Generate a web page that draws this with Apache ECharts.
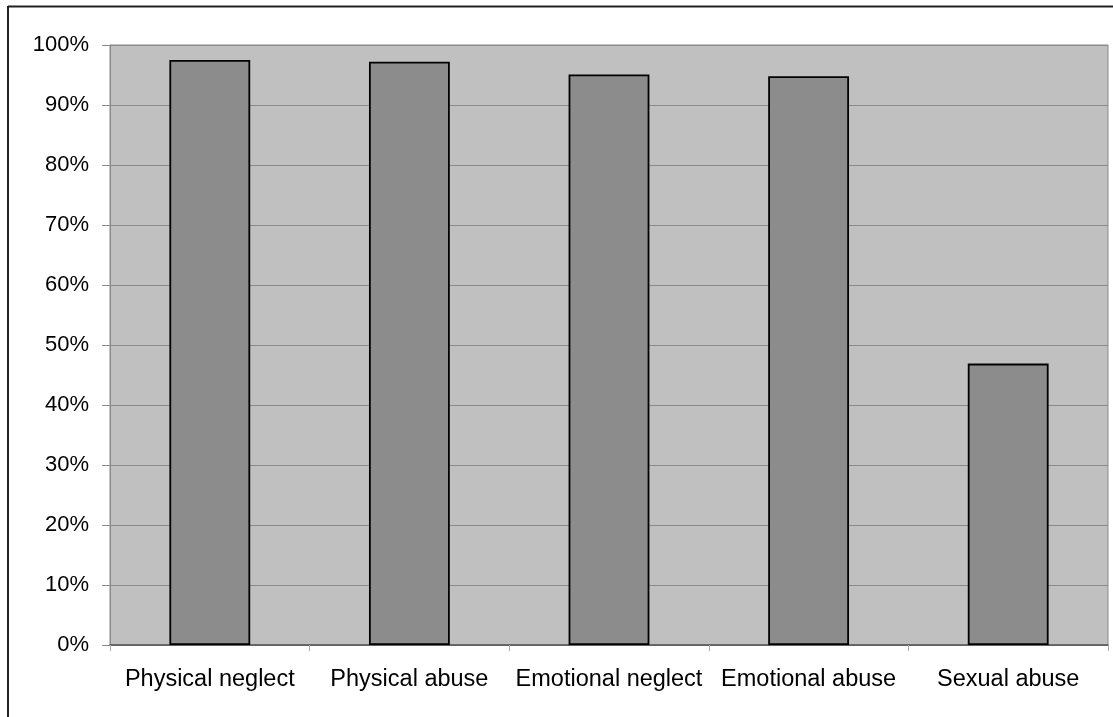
<!DOCTYPE html>
<html>
<head>
<meta charset="utf-8">
<style>
  html, body { margin: 0; padding: 0; background: #ffffff; }
  #chart { width: 1113px; height: 717px; }
</style>
<script src="https://cdn.jsdelivr.net/npm/echarts@6/dist/echarts.min.js"></script>
</head>
<body>
<div id="chart"></div>
<script>
// Share of cases reporting each type of maltreatment (%)
const categories = ['Physical neglect', 'Physical abuse', 'Emotional neglect', 'Emotional abuse', 'Sexual abuse'];
const percentages = [97.5, 97.2, 95.1, 94.8, 46.9];
const yTicks = [0, 10, 20, 30, 40, 50, 60, 70, 80, 90, 100];

const chart = echarts.init(document.getElementById('chart'), null, { renderer: 'canvas' });

const fontFamily = '"Liberation Sans", Arial, Helvetica, sans-serif';

chart.setOption({
  animation: false,
  backgroundColor: '#ffffff',
  graphic: [
    { type: 'line', shape: { x1: 8, y1: 6.5, x2: 1113, y2: 6.5 }, style: { stroke: '#222222', lineWidth: 2 } },
    { type: 'line', shape: { x1: 8, y1: 6, x2: 8, y2: 717 }, style: { stroke: '#222222', lineWidth: 2 } }
  ],
  grid: {
    left: 110,
    top: 45,
    right: 5,
    bottom: 72,
    show: true,
    backgroundColor: '#c0c0c0',
    borderColor: '#8a8a8a',
    borderWidth: 1
  },
  xAxis: {
    type: 'category',
    data: categories,
    boundaryGap: true,
    axisLine: { show: true, lineStyle: { color: '#555555', width: 1.5 } },
    axisTick: { show: true, alignWithLabel: false, length: 6, lineStyle: { color: '#aaaaaa' } },
    axisLabel: {
      margin: 23,
      interval: 0,
      fontFamily: fontFamily,
      fontSize: 23.5,
      color: '#000000'
    },
    splitLine: { show: false }
  },
  yAxis: {
    type: 'value',
    min: yTicks[0],
    max: yTicks[yTicks.length - 1],
    interval: yTicks[1] - yTicks[0],
    axisLine: { show: true, lineStyle: { color: '#8a8a8a' } },
    axisTick: { show: true, length: 8, lineStyle: { color: '#8a8a8a' } },
    axisLabel: {
      margin: 21,
      formatter: '{value}%',
      fontFamily: fontFamily,
      fontSize: 22,
      color: '#000000'
    },
    splitLine: { show: true, lineStyle: { color: '#8a8a8a', width: 1 } }
  },
  series: [{
    type: 'bar',
    data: percentages,
    barWidth: '40.5%',
    itemStyle: {
      color: '#8c8c8c',
      borderColor: '#000000',
      borderWidth: 1.8
    }
  }]
});
</script>
</body>
</html>
